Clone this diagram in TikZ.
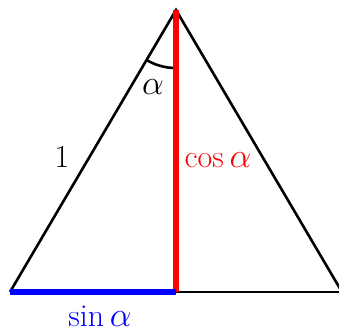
\documentclass[tikz,border=0pt]{standalone}
\usepackage{fontspec}
\usetikzlibrary{calc}
\begin{document}
\begin{tikzpicture}[x=0.5pt,y=-0.5pt,
  side/.style={line width=1.3pt,black},
  thick red/.style={line width=2.6pt,red},
  thick blue/.style={line width=2.6pt,blue},
  lbl/.style={font=\fontsize{16}{19}\selectfont,inner sep=0pt}]
\useasboundingbox (0,0) rectangle (339,331);
\begin{scope}
\clip (0,0) rectangle (339,331);
\coordinate (A) at (176,10);
\coordinate (L) at (10,292);
\coordinate (R) at (342,292);
\coordinate (F) at (176,292);
\draw[side] (L) -- (A) -- (R);
\draw[side] (F) -- (R);
\draw[side] ($(A)!58/327!(L)$) arc[start angle=239.5,end angle=270,radius=29pt];
\draw[thick red] (A) -- (F);
\draw[thick blue] (L) -- (F);
\end{scope}
\node[lbl] (alpha) at (153,87) {$\alpha$};
\node[lbl] (one) at (62,157) {1};
\node[lbl,red] (cos) at (218,160) {$\cos\alpha$};
\node[lbl,blue] (sin) at (100,316) {$\sin\alpha$};
\end{tikzpicture}
\end{document}
